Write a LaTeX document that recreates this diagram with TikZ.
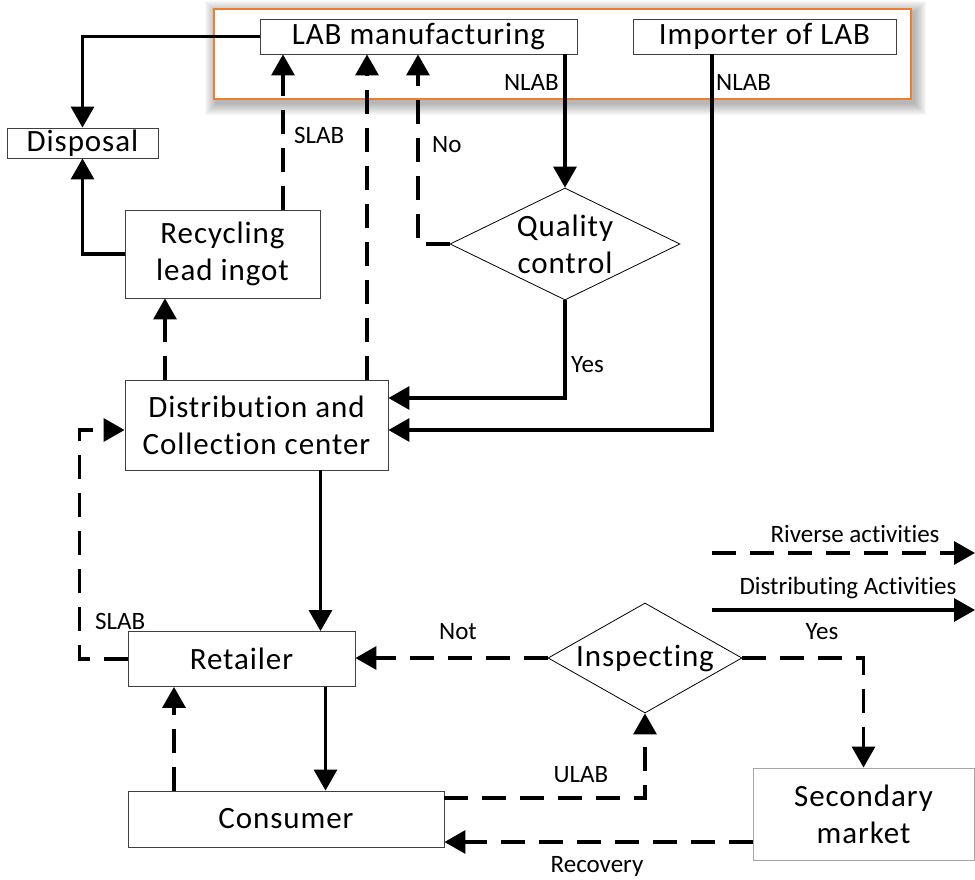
\documentclass[tikz,border=0pt]{standalone}
\usepackage{fontspec}
\setmainfont{Carlito}[Ligatures=NoCommon]
\usetikzlibrary{arrows.meta,shapes.geometric}
\definecolor{frameorange}{HTML}{ED7D31}
\newfontfamily\spacedfont{Carlito}[Ligatures=NoCommon,LetterSpace=3]
\newcommand\bxfont{\spacedfont\fontsize{31}{37}\selectfont}
\newcommand\lblfont{\fontsize{25}{29}\selectfont}
\begin{document}
\begin{tikzpicture}[x=1pt,y=-1pt,
  every node/.style={inner sep=0pt},
  box/.style={draw=black!75, line width=0.9pt, fill=white, align=center, font=\bxfont},
  decision/.style={diamond, draw=black, line width=0.8pt, fill=white, align=center, font=\bxfont},
  flow/.style={line width=3.3pt, -{Triangle[length=21pt,width=23pt]}},
  rev/.style={flow, dash pattern=on 24pt off 14pt},
  lbl/.style={font=\lblfont}]
\useasboundingbox (0,0) rectangle (975,880);

% soft shadow and orange frame around the producers
\foreach \k in {1,...,12}
  \fill[black, opacity=0.028] ({214-\k+3},{9-\k+4}) rectangle ({911+\k+3},{99+\k+4});
\node[draw=frameorange, line width=2pt, fill=white, minimum width=697pt, minimum height=90pt] (frame) at (562.5,54) {};

% boxes
\node[box, minimum width=317pt, minimum height=35pt] (lab) at (418.5,36.5) {LAB manufacturing};
\node[box, minimum width=263pt, minimum height=35pt] (imp) at (764.5,36.5) {Importer of LAB};
\node[box, minimum width=151pt, minimum height=30pt] (disp) at (82.5,143) {Disposal};
\node[box, minimum width=195pt, minimum height=88pt] (recy) at (222.5,254) {Recycling\\lead ingot};
\node[decision, aspect=2.05, minimum width=230pt, minimum height=112pt] (qc) at (565,244) {Quality\\control};
\node[box, minimum width=263pt, minimum height=90pt] (dist) at (256.5,425) {Distribution and\\Collection center};
\node[box, minimum width=227pt, minimum height=55pt] (ret) at (241.5,659) {Retailer};
\node[box, minimum width=316pt, minimum height=56pt] (con) at (286,819) {Consumer};
\node[decision, aspect=1.76, minimum width=194pt, minimum height=110pt] (insp) at (645,658) {Inspecting};
\node[box, draw=black!35, minimum width=221pt, minimum height=92pt] (sec) at (863.5,814) {Secondary\\market};

% distributing (solid) flows
\draw[flow] (lab.west) -| (disp.north);
\draw[flow] (recy.west) -| (disp.south);
\draw[flow] (qc.north |- lab.south) -- (qc.north);
\draw[flow] (qc.south) |- ([yshift=27pt]dist.east);
\draw[flow] ([xshift=-52.5pt]imp.south) |- ([yshift=-5pt]dist.east);
\draw[flow] ([xshift=64pt]dist.south) -- ([xshift=64pt]dist.south |- ret.north);
\draw[flow] ([xshift=84pt]ret.south) -- ([xshift=84pt]ret.south |- con.north);

% reverse (dashed) flows
\draw[rev] ([xshift=60.5pt]recy.north) -- ([xshift=60.5pt]recy.north |- lab.south);
\draw[rev] ([xshift=110.5pt]dist.north) -- ([xshift=110.5pt]dist.north |- lab.south);
\draw[rev] (qc.west) -| ([xshift=-0.5pt]lab.south);
\draw[rev] ([xshift=-91.5pt]dist.north) -- ([xshift=-91.5pt]dist.north |- recy.south);
\draw[rev] (ret.west) -- ++(-48,0) |- ([yshift=-5pt]dist.west);
\draw[rev] ([xshift=-112pt]con.north) -- ([xshift=-112pt]con.north |- ret.south);
\draw[rev] (insp.west) -- (insp.west -| ret.east);
\draw[rev] (insp.east) -| (sec.north);
\draw[rev] ([yshift=21pt]con.east) -| (insp.south);
\draw[rev] ([yshift=-28pt]sec.west) -- ([yshift=-28pt]sec.west -| con.east);

% flow labels
\node[lbl, anchor=east] (nlab1) at (559,82) {NLAB};
\node[lbl, anchor=west] (nlab2) at (716,82) {NLAB};
\node[lbl, anchor=west] (slab1) at (294,135) {SLAB};
\node[lbl, anchor=west] (no) at (432,145) {No};
\node[lbl, anchor=west] (yes1) at (571,365) {Yes};
\node[lbl, anchor=west] (slab2) at (95,621) {SLAB};
\node[lbl] (notl) at (458,632) {Not};
\node[lbl] (yes2) at (822,632) {Yes};
\node[lbl] (ulab) at (581,775) {ULAB};
\node[lbl] (recov) at (597,866) {Recovery};

% legend
\coordinate (r1) at (712,553);
\coordinate (r2) at (975,553);
\coordinate (d1) at (712,610);
\coordinate (d2) at (975,610);
\draw[rev] (r1) -- (r2);
\draw[flow] (d1) -- (d2);
\node[lbl] (revtxt) at (855,534) {Riverse activities};
\node[lbl] (distxt) at (848,588) {Distributing Activities};
\end{tikzpicture}
\end{document}
